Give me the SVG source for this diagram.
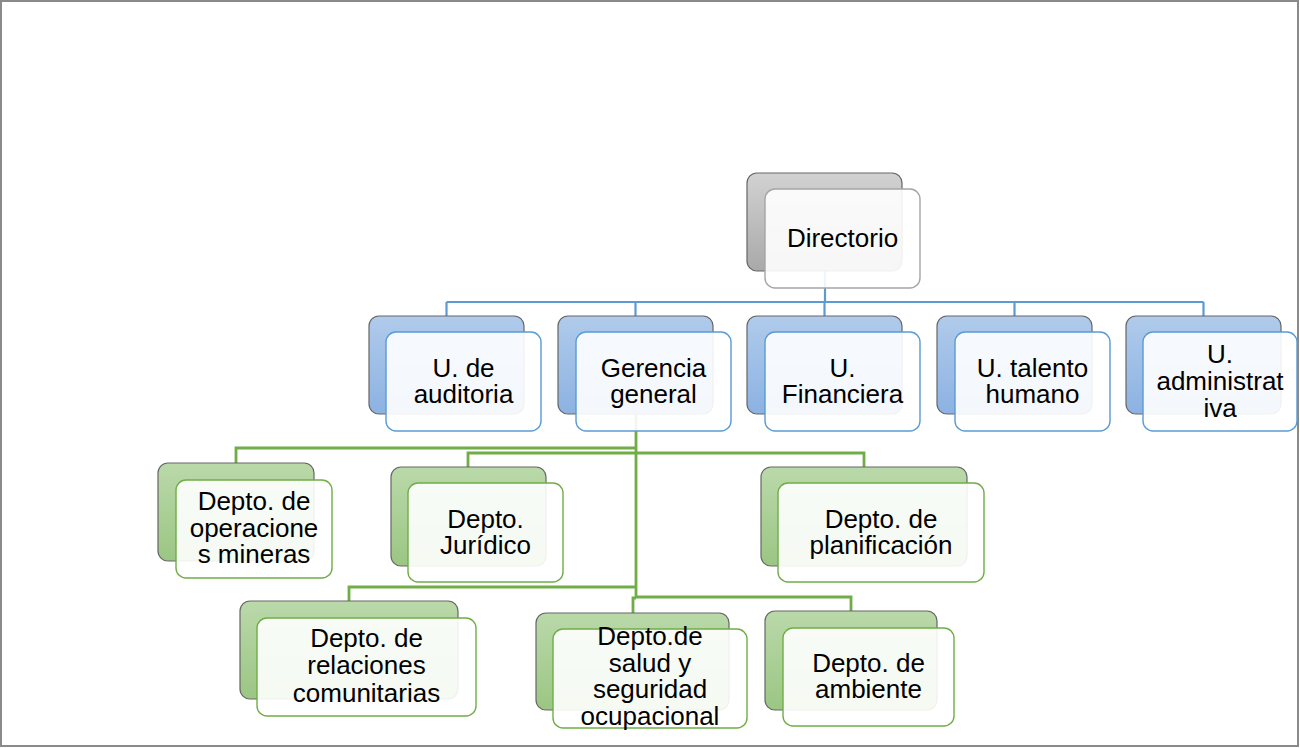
<svg xmlns="http://www.w3.org/2000/svg" width="1300" height="748" viewBox="0 0 1300 748">
<defs>
<linearGradient id="gGray" x1="0" y1="0" x2="0" y2="1"><stop offset="0" stop-color="#d2d2d2"/><stop offset="1" stop-color="#a9a9a9"/></linearGradient>
<linearGradient id="gBlue" x1="0" y1="0" x2="0" y2="1"><stop offset="0" stop-color="#b0cbeb"/><stop offset="1" stop-color="#8cb2e2"/></linearGradient>
<linearGradient id="gGreen" x1="0" y1="0" x2="0" y2="1"><stop offset="0" stop-color="#bad9aa"/><stop offset="1" stop-color="#9bc683"/></linearGradient>
</defs>
<style>
.back{stroke:#666;stroke-width:1.2}
.gray .back{fill:url(#gGray)}
.blue .back{fill:url(#gBlue)}
.green .back{fill:url(#gGreen)}
.front{fill:#fff;fill-opacity:0.9;stroke-width:1.4}
.gray .front{stroke:#a5a5a5}
.blue .front{stroke:#5b9bd5}
.green .front{stroke:#70ad47}
text{font-family:"Liberation Sans",Arial,sans-serif;font-size:26px;fill:#000;text-anchor:middle}
.cb{fill:none;stroke:#5b9bd5;stroke-width:2.2}
.cg{fill:none;stroke:#70ad47;stroke-width:2.8}
</style>
<rect x="1" y="1" width="1297" height="745" fill="#fff" stroke="#8a8a8a" stroke-width="2"/>
<g id="connectors">
<path class="cb" d="M825 271V302M446.5 302H1203.5M446.5 302V316M635.5 302V316M824.5 302V316M1014.5 302V316M1203.5 302V316"/>
<path class="cg" d="M636 414V598M636 448H236V463M468 467V453H864V467M636 587H349V601M636 597H851V611M636 598H633V613"/>
</g>
<g id="directorio" class="gray">
<rect class="back" x="747" y="173" width="155" height="98" rx="10"/>
<rect class="front" x="765" y="189" width="155" height="99" rx="10"/>
<text x="842.5" y="247">Directorio</text>
</g>
<g id="auditoria" class="blue">
<rect class="back" x="369" y="316" width="155" height="98" rx="10"/>
<rect class="front" x="386" y="332" width="155" height="99" rx="10"/>
<text x="463.5" y="377">U. de</text><text x="463.5" y="403">auditoria</text>
</g>
<g id="gerencia" class="blue">
<rect class="back" x="558" y="316" width="155" height="98" rx="10"/>
<rect class="front" x="576" y="332" width="155" height="99" rx="10"/>
<text x="653.5" y="377">Gerencia</text><text x="653.5" y="403">general</text>
</g>
<g id="financiera" class="blue">
<rect class="back" x="747" y="316" width="155" height="98" rx="10"/>
<rect class="front" x="765" y="332" width="155" height="99" rx="10"/>
<text x="842.5" y="377">U.</text><text x="842.5" y="403">Financiera</text>
</g>
<g id="talento" class="blue">
<rect class="back" x="937" y="316" width="155" height="98" rx="10"/>
<rect class="front" x="955" y="332" width="155" height="99" rx="10"/>
<text x="1032.5" y="377">U. talento</text><text x="1032.5" y="403">humano</text>
</g>
<g id="administrativa" class="blue">
<rect class="back" x="1126" y="316" width="155" height="98" rx="10"/>
<rect class="front" x="1143" y="332" width="154" height="99" rx="10"/>
<text x="1220" y="363">U.</text><text x="1220" y="390">administrat</text><text x="1220" y="417">iva</text>
</g>
<g id="operaciones" class="green">
<rect class="back" x="158" y="463" width="156" height="98" rx="10"/>
<rect class="front" x="176" y="480" width="156" height="98" rx="10"/>
<text x="254" y="510">Depto. de</text><text x="254" y="537">operacione</text><text x="254" y="563">s mineras</text>
</g>
<g id="juridico" class="green">
<rect class="back" x="391" y="467" width="155" height="99" rx="10"/>
<rect class="front" x="408" y="483" width="155" height="99" rx="10"/>
<text x="485.5" y="528">Depto.</text><text x="485.5" y="554">Jurídico</text>
</g>
<g id="planificacion" class="green">
<rect class="back" x="761" y="467" width="206" height="99" rx="10"/>
<rect class="front" x="778" y="483" width="206" height="99" rx="10"/>
<text x="881" y="528">Depto. de</text><text x="881" y="554">planificación</text>
</g>
<g id="relaciones" class="green">
<rect class="back" x="240" y="601" width="218" height="98" rx="10"/>
<rect class="front" x="257" y="618" width="219" height="98" rx="10"/>
<text x="366.5" y="647">Depto. de</text><text x="366.5" y="674">relaciones</text><text x="366.5" y="702">comunitarias</text>
</g>
<g id="salud" class="green">
<rect class="back" x="536" y="613" width="193" height="97" rx="10"/>
<rect class="front" x="553" y="629" width="194" height="99" rx="10"/>
<text x="650" y="645">Depto.de</text><text x="650" y="672">salud y</text><text x="650" y="698">seguridad</text><text x="650" y="725">ocupacional</text>
</g>
<g id="ambiente" class="green">
<rect class="back" x="765" y="611" width="172" height="99" rx="10"/>
<rect class="front" x="783" y="628" width="171" height="98" rx="10"/>
<text x="868.5" y="672">Depto. de</text><text x="868.5" y="698">ambiente</text>
</g>
</svg>
